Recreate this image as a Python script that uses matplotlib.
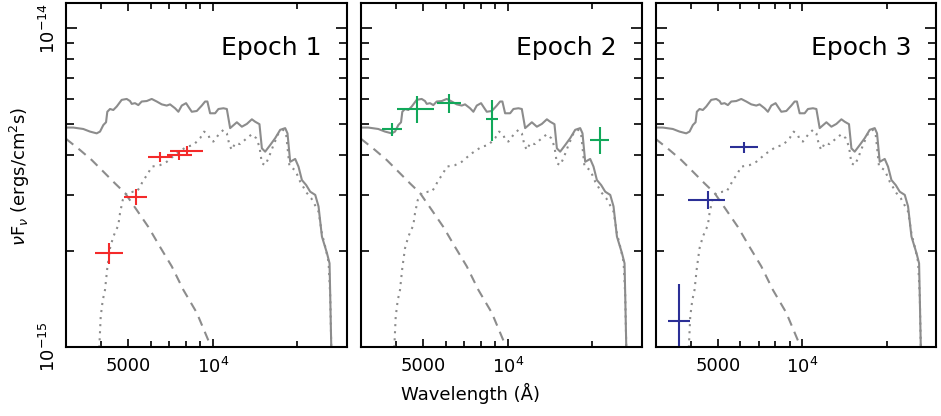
import numpy as np
import matplotlib
matplotlib.use("Agg")
import matplotlib.pyplot as plt
from matplotlib.ticker import FixedLocator, NullFormatter, FuncFormatter, LogLocator

# model curves, wavelength in Angstrom, nuF_nu in units of 1e-15 erg/cm^2/s
lam_total = [3000, 3185, 3457, 3652, 3859, 3966, 4075, 4166, 4210, 4304, 4422, 4547,
             4736, 4935, 5071, 5143, 5283, 5428, 5581, 5815, 6058, 6312, 6576, 6851,
             7040, 7334, 7537, 7749, 8027, 8249, 8412, 8764, 9131, 9382, 9560, 9775,
             10184, 10465, 10902, 11210, 11519, 12170, 12680, 13210, 13764, 14140,
             14647, 14940, 15349, 15990, 16662, 17360, 18085, 18430, 18842, 19629,
             20170, 20740, 21484, 22204, 23134, 23768, 24440, 25467, 26013, 26163,
             26381, 26450]
flux_total = [4.88, 4.88, 4.83, 4.74, 4.68, 4.74, 4.97, 5.07, 5.47, 5.58, 5.54, 5.68,
              5.96, 6.00, 5.91, 5.79, 5.82, 5.74, 5.89, 5.91, 6.00, 5.89, 5.77, 5.72,
              5.77, 5.61, 5.47, 5.72, 5.82, 5.61, 5.47, 5.50, 5.72, 5.89, 5.89, 5.41,
              5.41, 5.58, 5.61, 5.58, 4.86, 5.07, 4.91, 5.01, 5.18, 5.09,
              5.00, 4.20, 4.10, 4.30, 4.52, 4.80, 4.86, 4.68, 3.81, 3.89,
              3.68, 3.34, 3.22, 3.07, 3.00, 2.76, 2.22, 1.97, 1.83, 1.44,
              1.00, 0.90]

lam_star = [3920, 3943, 3988, 4054, 4131, 4210, 4304, 4422, 4607, 4672, 4777, 4935,
            5211, 5359, 5505, 5657, 5843, 6058, 6487, 6851, 7138, 7437, 7749, 8074,
            8521, 9006, 9304, 9640, 9775, 10044, 10465, 10902, 11210, 11452, 11679,
            12000, 12506, 13210, 13764, 14258, 14647, 14940, 15349, 15771, 16430,
            17118, 17834, 18236, 18734, 19629, 20455, 21607, 22383, 23768, 24440,
            25113, 25804, 26163, 26381, 26450]
flux_star = [0.90, 1.00, 1.245, 1.40, 1.51, 1.77, 2.04, 2.22, 2.41, 2.63, 2.89, 3.04,
             3.07, 3.07, 3.18, 3.34, 3.47, 3.68, 3.72, 3.81, 3.93, 4.05, 4.15, 4.25,
             4.30, 4.52, 4.74, 4.63, 4.46, 4.41, 4.63, 4.80, 4.68, 4.30, 4.15,
             4.36, 4.33, 4.52, 4.65, 4.52, 4.25, 3.77, 3.72, 3.91, 4.30,
             4.68, 4.80, 4.63, 3.68, 3.59, 3.30, 3.04, 2.93, 2.66, 2.27,
             2.06, 1.85, 1.44, 1.00, 0.90]

lam_hot = [3000, 3365, 3705, 4074, 4484, 4868, 5358, 5893, 6486, 7140, 7852, 8764,
           9856, 10500]
flux_hot = [4.50, 4.15, 3.86, 3.55, 3.26, 3.04, 2.69, 2.38, 2.06, 1.79, 1.51, 1.28,
            1.00, 0.88]

# photometry per epoch
ep1_lam = [4279, 5328, 6487, 7598, 8074]
ep1_lo = [3806, 4840, 5863, 6887, 7040]
ep1_hi = [4800, 5815, 7138, 8412, 9207]
ep1_flux = [1.97, 2.95, 3.94, 4.00, 4.13]
ep1_ferr = [0.15, 0.17, 0.14, 0.13, 0.13]

ep2_lam = [3878, 4762, 6174, 8808, 21190]
ep2_lo = [3555, 4041, 5581, 8343, 19629]
ep2_hi = [4189, 5473, 6813, 9251, 22992]
ep2_flux = [4.83, 5.58, 5.82, 5.19, 4.46]
ep2_ferr = [0.23, 0.55, 0.38, 0.77, 0.44]

ep3_lam = [3641, 4618, 6206]
ep3_lo = [3326, 3920, 5518]
ep3_hi = [3976, 5297, 6925]
ep3_flux = [1.21, 2.89, 4.23]
ep3_ferr = [0.37, 0.19, 0.16]

epochs = [
    ("Epoch 1", ep1_lam, ep1_lo, ep1_hi, ep1_flux, ep1_ferr, "#f42a2a"),
    ("Epoch 2", ep2_lam, ep2_lo, ep2_hi, ep2_flux, ep2_ferr, "#11a85a"),
    ("Epoch 3", ep3_lam, ep3_lo, ep3_hi, ep3_flux, ep3_ferr, "#2b2f96"),
]

S = 1e-15
gray = "#8c8c8c"
plt.rcParams["font.family"] = "DejaVu Sans"

fig = plt.figure(figsize=(9.41, 4.16), dpi=100)
lefts = [0.0701, 0.3836, 0.6966]

for i, (name, lam, lo, hi, fl, fe, col) in enumerate(epochs):
    ax = fig.add_axes([lefts[i], 0.1659, 0.2986, 0.8269])
    ax.set_xscale("log")
    ax.set_yscale("log")

    ax.plot(lam_total, np.array(flux_total) * S, color=gray, lw=1.5)
    ax.plot(lam_star, np.array(flux_star) * S, color=gray, lw=1.5,
            linestyle=(0, (1, 2.4)))
    ax.plot(lam_hot, np.array(flux_hot) * S, color=gray, lw=1.5,
            linestyle=(0, (4.5, 3.2)))

    lam = np.array(lam)
    xerr = [lam - np.array(lo), np.array(hi) - lam]
    ax.errorbar(lam, np.array(fl) * S, xerr=xerr, yerr=np.array(fe) * S,
                fmt="none", ecolor=col, elinewidth=1.5, capsize=0)

    ax.set_xlim(3000, 30000)
    ax.set_ylim(1e-15, 1.2e-14)

    ax.xaxis.set_major_locator(FixedLocator([5000, 10000]))
    ax.xaxis.set_minor_locator(FixedLocator([4000, 6000, 7000, 8000, 9000, 20000]))
    ax.xaxis.set_major_formatter(FuncFormatter(
        lambda v, p: "5000" if v < 6000 else r"10$^{4}$"))
    ax.xaxis.set_minor_formatter(NullFormatter())

    ax.yaxis.set_major_locator(FixedLocator([1e-15, 1e-14]))
    ax.yaxis.set_minor_locator(LogLocator(base=10, subs=np.arange(2, 10)))
    ax.yaxis.set_minor_formatter(NullFormatter())
    if i == 0:
        ax.yaxis.set_major_formatter(FuncFormatter(
            lambda v, p: r"10$^{%d}$" % int(round(np.log10(v)))))
    else:
        ax.yaxis.set_major_formatter(NullFormatter())

    ax.tick_params(which="both", direction="in", top=True, right=True,
                   width=1.2, labelsize=13)
    ax.tick_params(axis="x", which="major", length=6, pad=7)
    ax.tick_params(axis="x", which="minor", length=4)
    ax.tick_params(axis="y", which="major", length=8, pad=5)
    ax.tick_params(axis="y", which="minor", length=6)
    for t in ax.yaxis.get_major_ticks():
        t.label1.set_rotation(90)
        t.label1.set_rotation_mode("anchor")
        t.label1.set_ha("center")
        t.label1.set_va("bottom")
    for sp in ax.spines.values():
        sp.set_linewidth(1.5)

    ax.text(0.91, 0.85, name, transform=ax.transAxes, ha="right",
            va="baseline", fontsize=18)

fig.text(0.5, 0.055, "Wavelength (Å)", ha="center", va="center", fontsize=13)
fig.text(0.021, 0.577, r"$\nu$F$_\nu$ (ergs/cm$^2$s)", ha="center",
         va="center", rotation=90, fontsize=13)

fig.savefig("out.png", dpi=100)
